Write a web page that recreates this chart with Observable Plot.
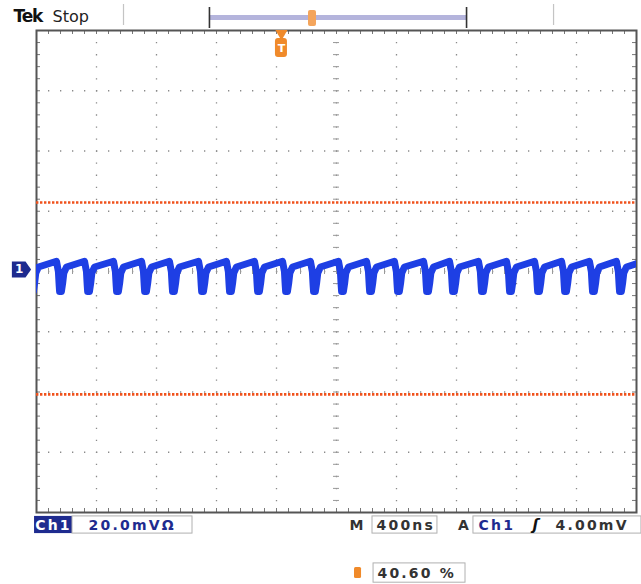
<!DOCTYPE html>
<html>
<head>
<meta charset="utf-8">
<script src="https://cdn.jsdelivr.net/npm/d3@7"></script>
<script src="https://cdn.jsdelivr.net/npm/@observablehq/plot@0.6"></script>
<style>
  html, body { margin: 0; padding: 0; background: #fff; }
  #chart svg { display: block; }
</style>
</head>
<body>
<div id="chart"></div>
<script>
// ---- Data ----
// Time axis: 10 divisions x 400 ns; vertical: 8 divisions x 20 mV
const xDivisions = [0, 400, 800, 1200, 1600, 2000, 2400, 2800, 3200, 3600, 4000]; // ns
const yDivisions = [-80, -60, -40, -20, 0, 20, 40, 60, 80]; // mV
// times (ns) of the negative notch in each cycle (first/last are the partial cycles at the edges)
const notchTimes = [-27, 160, 347, 540, 727, 913, 1107, 1293, 1480, 1667, 1853, 2040, 2227, 2413, 2607, 2780, 2973, 3160, 3347, 3527, 3713, 3893, 4080];
// shape of one cycle around the notch: time offset (ns) and level (mV)
const shapeOffsets = [-27, -14, -9, -6, 6, 14, 22, 40];
const shapeValues  = [3.4, 0.0, -4.5, -6.6, -6.6, -4.0, -0.5, 1.5];
// cursor levels (mV)
const cursorLevels = [22.9, -40.8];
// readouts
const channelLabel = "Ch1";
const scaleLabel = "20.0mV\u03A9";
const timebaseLabel = "400ns";
const triggerSource = "Ch1";
const triggerLevel = "4.00mV";
const triggerPosition = "40.60 %";
const triggerTime = 1633;   // ns, trigger marker on top edge
const viewStart = 1153, viewEnd = 2867, viewMarker = 1840; // record view bracket (ns)

// ---- Build ----
const trace = notchTimes.flatMap(t0 => shapeOffsets.map((o, i) => ({t: t0 + o, v: shapeValues[i]})));
const minorX = d3.range(0, 4000.1, 80);
const minorY = d3.range(-80, 80.1, 4);
const innerX = xDivisions.slice(1, -1);
const innerY = yDivisions.slice(1, -1);

const pxX = 20 / 3;     // ns per pixel
const pxY = 160 / 482;  // mV per pixel

const readFont = "DejaVu Sans";
const navy = "#1e2b8f";
const orange = "#f08a2a";

const arrowRight = {
  draw(ctx, size) {
    const s = Math.sqrt(size / Math.PI);
    ctx.moveTo(-s * 1.2, -s);
    ctx.lineTo(s * 0.5, -s);
    ctx.lineTo(s * 1.2, 0);
    ctx.lineTo(s * 0.5, s);
    ctx.lineTo(-s * 1.2, s);
    ctx.closePath();
  }
};

const chart = Plot.plot({
  width: 641,
  height: 584,
  marginLeft: 36,
  marginRight: 5,
  marginTop: 30,
  marginBottom: 72,
  x: {domain: [0, 4000], axis: null},
  y: {domain: [-80, 80], axis: null},
  style: {background: "#fff", overflow: "visible"},
  marks: [
    // dotted graticule
    Plot.ruleX(innerX, {stroke: "#8a8a8a", strokeWidth: 1.3, strokeDasharray: "1.3,10.75"}),
    Plot.ruleY(innerY, {stroke: "#8a8a8a", strokeWidth: 1.3, strokeDasharray: "1.3,10.7"}),
    // border ticks
    Plot.ruleX(minorX, {y1: 80, y2: 80 - 4 * pxY, stroke: "#777", strokeWidth: 1}),
    Plot.ruleX(minorX, {y1: -80, y2: -80 + 4 * pxY, stroke: "#777", strokeWidth: 1}),
    Plot.ruleY(minorY, {x1: 0, x2: 4 * pxX, stroke: "#777", strokeWidth: 1}),
    Plot.ruleY(minorY, {x1: 4000, x2: 4000 - 4 * pxX, stroke: "#777", strokeWidth: 1}),
    // centre cross ticks
    Plot.ruleX(minorX, {y1: -3 * pxY, y2: 3 * pxY, stroke: "#999", strokeWidth: 1}),
    Plot.ruleY(minorY, {x1: 2000 - 3 * pxX, x2: 2000 + 3 * pxX, stroke: "#999", strokeWidth: 1}),
    Plot.frame({stroke: "#555", strokeWidth: 2}),
    // cursors
    Plot.ruleY(cursorLevels, {stroke: "#f0521c", strokeWidth: 2.6, strokeDasharray: "2.4,1.6"}),
    // waveform
    Plot.line(trace, {x: "t", y: "v", stroke: "#1e3fe4", strokeWidth: 7, strokeLinejoin: "round", clip: true}),
    // ground marker
    Plot.dot([0], {x: -100, y: 0.66, symbol: arrowRight, r: 8, fill: navy, stroke: null}),
    Plot.text(["1"], {x: -115, y: 0.66, fill: "#fff", fontSize: 12, fontWeight: "bold", fontFamily: readFont}),
    // trigger marker on top edge
    Plot.dot([0], {x: triggerTime, y: 79.0, symbol: "triangle", rotate: 180, r: 4.5, fill: orange, stroke: null}),
    Plot.rect([0], {x1: triggerTime - 6 * pxX, x2: triggerTime + 6 * pxX, y1: (271 - 57) * pxY, y2: (271 - 38) * pxY, rx: 3, fill: orange}),
    Plot.text(["T"], {x: triggerTime, y: (271 - 47.5) * pxY, fill: "#fff", fontSize: 11, fontWeight: "bold", fontFamily: readFont}),
    // title
    Plot.text(["Tek"], {x: -153, y: 84.5, textAnchor: "start", fontSize: 17, fontWeight: "bold", fontFamily: "DejaVu Sans", fill: "#111"}),
    Plot.text(["Stop"], {x: 107, y: 84.5, textAnchor: "start", fontSize: 16, fontFamily: "DejaVu Sans", fill: "#222"}),
    // record view bar
    Plot.ruleX([580, 3447], {y1: (271 - 25) * pxY, y2: (271 - 4) * pxY, stroke: "#c4c4c4", strokeWidth: 1.2}),
    Plot.rect([0], {x1: viewStart, x2: viewEnd, y1: (271 - 20) * pxY, y2: (271 - 15) * pxY, fill: "#b4b4dc"}),
    Plot.ruleX([viewStart, viewEnd], {y1: (271 - 28) * pxY, y2: (271 - 7) * pxY, stroke: "#333", strokeWidth: 1.6}),
    Plot.rect([0], {x1: viewMarker - 4 * pxX, x2: viewMarker + 4 * pxX, y1: (271 - 26) * pxY, y2: (271 - 10) * pxY, rx: 2, fill: "#f4a55c"}),
    // bottom readouts, row 1
    Plot.rect([0], {x1: -13, x2: 240, y1: -87.0, y2: -81.3, fill: navy}),
    Plot.text([channelLabel], {x: 113, y: -84.2, fill: "#fff", fontSize: 14, fontWeight: "bold", fontFamily: readFont}),
    Plot.rect([0], {x1: 240, x2: 1040, y1: -87.0, y2: -81.3, fill: "#fff", stroke: "#b0b0b0"}),
    Plot.text([scaleLabel], {x: 347, y: -84.2, textAnchor: "start", fill: navy, fontSize: 14, fontWeight: "bold", fontFamily: readFont}),
    Plot.text(["M"], {x: 2140, y: -84.2, fill: "#333", fontSize: 14, fontWeight: "bold", fontFamily: readFont}),
    Plot.rect([0], {x1: 2240, x2: 2673, y1: -87.0, y2: -81.3, fill: "#fff", stroke: "#b0b0b0"}),
    Plot.text([timebaseLabel], {x: 2267, y: -84.2, textAnchor: "start", fill: "#333", fontSize: 14, fontWeight: "bold", fontFamily: readFont}),
    Plot.text(["A"], {x: 2853, y: -84.2, fill: "#333", fontSize: 14, fontWeight: "bold", fontFamily: readFont}),
    Plot.rect([0], {x1: 2913, x2: 4033, y1: -87.0, y2: -81.3, fill: "#fff", stroke: "#b0b0b0"}),
    Plot.text([triggerSource], {x: 2947, y: -84.2, textAnchor: "start", fill: navy, fontSize: 14, fontWeight: "bold", fontFamily: readFont}),
    Plot.text(["\u0283"], {x: 3327, y: -84.2, fill: "#111", fontSize: 15, fontStyle: "italic", fontWeight: "bold", fontFamily: readFont}),
    Plot.text([triggerLevel], {x: 3460, y: -84.2, textAnchor: "start", fill: "#333", fontSize: 14, fontWeight: "bold", fontFamily: readFont}),
    // bottom readouts, row 2
    Plot.rect([0], {x1: 2120, x2: 2167, y1: (271 - 578) * pxY, y2: (271 - 567) * pxY, rx: 1.5, fill: orange}),
    Plot.rect([0], {x1: 2247, x2: 2860, y1: -103.3, y2: -96.9, fill: "#fff", stroke: "#b0b0b0"}),
    Plot.text([triggerPosition], {x: 2273, y: -100.1, textAnchor: "start", fill: "#333", fontSize: 14, fontWeight: "bold", fontFamily: readFont})
  ]
});
d3.select(chart).selectAll('g[font-size="14"]').attr("letter-spacing", "2.2");
d3.select(chart).selectAll('g[font-size="17"]').attr("letter-spacing", "-1.2");
document.getElementById("chart").append(chart);
</script>
</body>
</html>
